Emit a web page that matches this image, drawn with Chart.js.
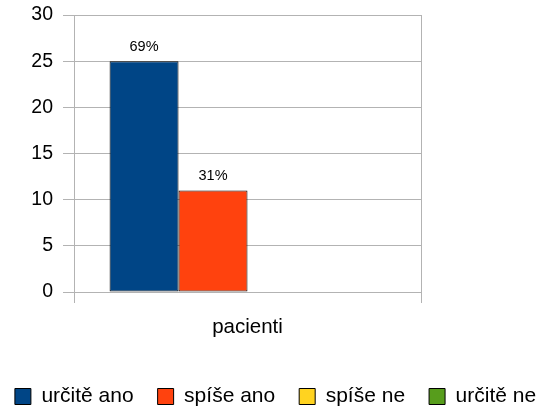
<!DOCTYPE html>
<html>
<head>
<meta charset="utf-8">
<script src="https://cdn.jsdelivr.net/npm/chart.js@4/dist/chart.umd.min.js"></script>
<style>
  html, body { margin: 0; padding: 0; background: #fff; }
  #wrap { width: 541px; height: 407px; }
</style>
</head>
<body>
<div id="wrap"><canvas id="c" width="541" height="407"></canvas></div>
<script>
const categories = ['pacienti'];
const seriesNames = ['určitě ano', 'spíše ano', 'spíše ne', 'určitě ne'];
const seriesValues = [[25], [11], [0], [0]];
const seriesPercents = [['69%'], ['31%'], [''], ['']];
const seriesColors = ['#004586', '#ff420e', '#ffd320', '#579d1c'];
const yTicks = [0, 5, 10, 15, 20, 25, 30];

const FONT = 'Liberation Sans, Arial, sans-serif';
const GRID = '#b3b3b3';

// Percent captions above each non-empty bar
const barLabels = {
  id: 'barLabels',
  afterDatasetsDraw(chart) {
    const ctx = chart.ctx;
    ctx.save();
    ctx.font = '14.5px ' + FONT;
    ctx.fillStyle = '#000';
    ctx.textAlign = 'center';
    ctx.textBaseline = 'middle';
    chart.data.datasets.forEach((ds, i) => {
      const meta = chart.getDatasetMeta(i);
      meta.data.forEach((bar, j) => {
        const txt = seriesPercents[i][j];
        if (txt && ds.data[j] > 0) ctx.fillText(txt, bar.x, bar.y - 14);
      });
    });
    ctx.restore();
  }
};

new Chart(document.getElementById('c'), {
  type: 'bar',
  data: {
    labels: categories,
    datasets: seriesNames.map((name, i) => ({
      label: name,
      data: seriesValues[i],
      backgroundColor: seriesColors[i],
      borderColor: '#000',
      borderWidth: 1,
      borderSkipped: false,
      categoryPercentage: 0.795,
      barPercentage: 1.0
    }))
  },
  options: {
    responsive: false,
    animation: false,
    // negative side padding gives the one-row legend a little extra room
    layout: { padding: { top: 15, left: -15, right: -25, bottom: -10 } },
    plugins: {
      tooltip: { enabled: false },
      legend: {
        position: 'bottom',
        labels: {
          font: { family: FONT, size: 21 },
          color: '#000',
          boxWidth: 16,
          boxHeight: 16,
          padding: 24,
          useBorderRadius: false,
          generateLabels(chart) {
            return chart.data.datasets.map((ds, i) => ({
              text: ds.label,
              fillStyle: ds.backgroundColor,
              strokeStyle: '#000',
              lineWidth: 1,
              datasetIndex: i
            }));
          }
        }
      }
    },
    scales: {
      x: {
        grid: { color: GRID, tickLength: 11, offset: true },
        border: { color: GRID },
        ticks: { font: { family: FONT, size: 20.5 }, color: '#000', padding: 12 },
        afterFit(s) { s.height = 70; s.paddingLeft = 0; s.paddingRight = 0; }
      },
      y: {
        min: 0,
        max: 30,
        afterBuildTicks(s) { s.ticks = yTicks.map(v => ({ value: v })); },
        grid: { color: GRID, tickLength: 11 },
        border: { color: GRID },
        ticks: { font: { family: FONT, size: 19.5 }, color: '#000', padding: 10 },
        afterFit(s) { s.width = 89; s.paddingTop = 0; s.paddingBottom = 0; }
      },
      yRight: {
        position: 'right',
        display: true,
        grid: { display: false, drawOnChartArea: false },
        border: { display: false },
        ticks: { display: false },
        afterFit(s) { s.width = 145; }
      }
    }
  },
  plugins: [barLabels]
});
</script>
</body>
</html>
